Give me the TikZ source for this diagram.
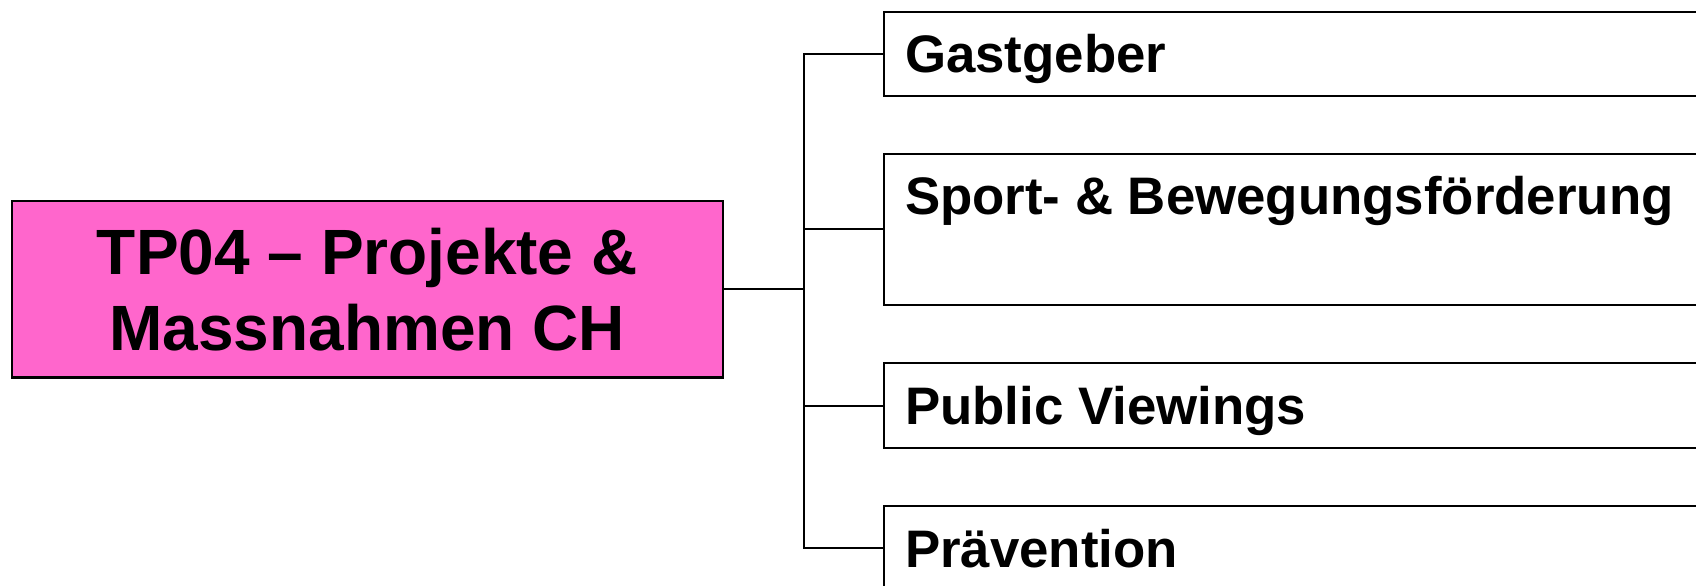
\documentclass[tikz,border=0pt]{standalone}
\usepackage{fontspec}
\setmainfont{Liberation Sans}
\definecolor{tppink}{RGB}{255,102,204}

\begin{document}
\begin{tikzpicture}[x=0.5pt,y=-0.5pt,line width=1.1pt,
  topicbox/.style={draw=black,rectangle,inner sep=0pt,anchor=north west},
  boxlabel/.style={anchor=base west,inner sep=0pt,font=\bfseries\fontsize{26.4}{31}\selectfont}]
\clip (0,0) rectangle (1696,585);
% main topic
\node[topicbox,fill=tppink,minimum width=355.4pt,minimum height=88.2pt,align=center,
  font=\bfseries\fontsize{32}{38}\selectfont] (main) at (10.8,200) {TP04 – Projekte \&\\Massnahmen CH};

% sub topics
\node[topicbox,minimum width=450pt,minimum height=42.2pt] (gast) at (882.6,10.8) {};
\node[boxlabel] (gastlabel) at ([xshift=10.7pt,yshift=-31pt]gast.north west) {Gastgeber};

\node[topicbox,minimum width=450pt,minimum height=75.5pt] (sport) at (882.6,152.5) {};
\node[boxlabel] (sportlabel) at ([xshift=10.7pt,yshift=-31pt]sport.north west) {Sport- \& Bewegungsförderung};

\node[topicbox,minimum width=450pt,minimum height=42.5pt] (public) at (882.6,362) {};
\node[boxlabel] (publiclabel) at ([xshift=10.7pt,yshift=-31pt]public.north west) {Public Viewings};

\node[topicbox,minimum width=450pt,minimum height=42pt] (praev) at (882.6,505) {};
\node[boxlabel] (praevlabel) at ([xshift=10.7pt,yshift=-31pt]praev.north west) {Prävention};

% connectors
\coordinate (fork) at ([xshift=40pt]main.east);
\draw (main.east) -- (fork);
\draw (gast.west) -| (fork) |- (praev.west);
\draw (sport.west) -- (sport.west -| fork);
\draw (public.west) -- (public.west -| fork);
\end{tikzpicture}
\end{document}
